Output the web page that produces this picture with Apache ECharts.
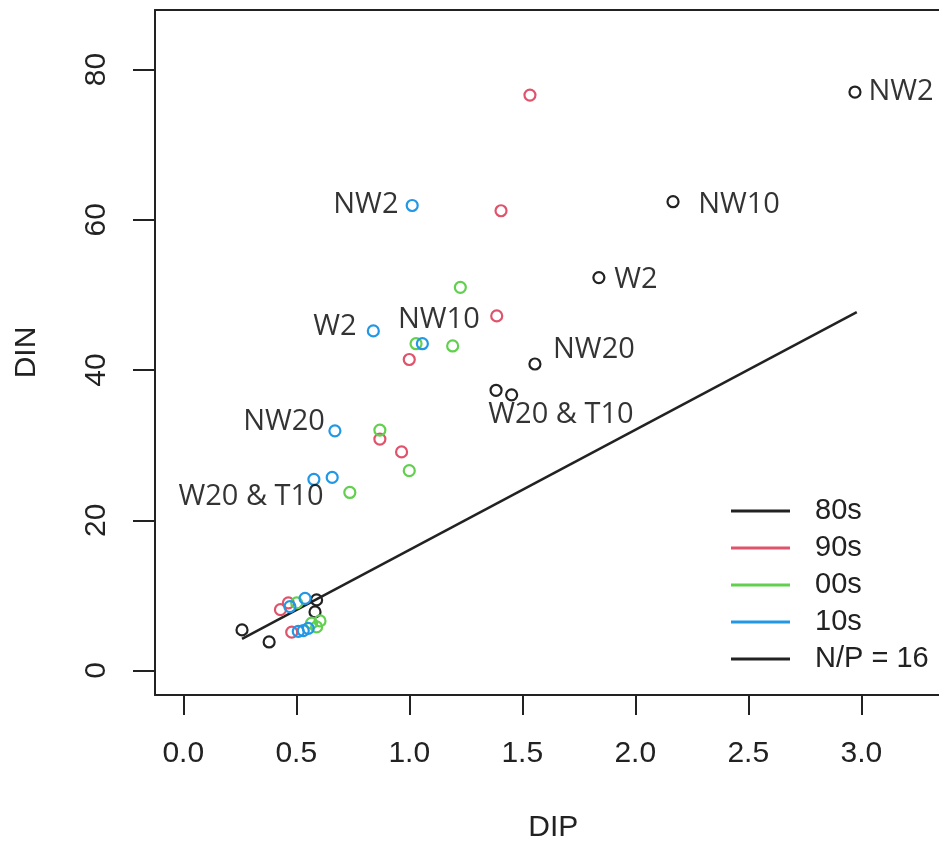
<!DOCTYPE html>
<html>
<head>
<meta charset="utf-8">
<script src="https://cdn.jsdelivr.net/npm/echarts@6/dist/echarts.min.js"></script>
<style>
  html, body { margin: 0; padding: 0; background: #fff; }
  #chart { width: 939px; height: 841px; }
</style>
</head>
<body>
<div id="chart"></div>
<script>
// points, [DIP, DIN]
var pts80s = [[2.972, 77.0], [2.167, 62.4], [1.839, 52.3], [1.556, 40.8], [1.384, 37.3], [1.453, 36.7],
  [0.26, 5.4], [0.38, 3.8], [0.583, 7.8], [0.59, 9.4]];
var pts90s = [[1.534, 76.6], [1.406, 61.2], [1.387, 47.2], [1.0, 41.4], [0.87, 30.8], [0.966, 29.1],
  [0.43, 8.1], [0.465, 9.0], [0.48, 5.1]];
var pts00s = [[1.226, 51.0], [1.03, 43.5], [1.192, 43.2], [0.87, 32.0], [1.0, 26.6], [0.737, 23.7],
  [0.502, 9.0], [0.568, 6.3], [0.605, 6.6], [0.59, 5.8]];
var pts10s = [[1.013, 61.9], [0.841, 45.2], [1.058, 43.5], [0.671, 31.9], [0.578, 25.45], [0.659, 25.7],
  [0.472, 8.5], [0.539, 9.6], [0.509, 5.2], [0.531, 5.3], [0.553, 5.6]];
var npLine = [[0.26, 4.2], [2.98, 47.7]];

// site labels [text, DIP, DIN] (text centre)
var siteLabels = [
  ['NW2', 3.176, 77.0], ['NW10', 2.459, 62.0], ['W2', 2.003, 52.0], ['NW20', 1.817, 42.7],
  ['W20 & T10', 1.671, 34.0], ['NW2', 0.808, 62.0], ['W2', 0.671, 45.7], ['NW10', 1.131, 46.7],
  ['NW20', 0.446, 33.1], ['W20 & T10', 0.3, 23.1]
];

var xTicks = [0, 0.5, 1, 1.5, 2, 2.5, 3];
var yTicks = [0, 20, 40, 60, 80];

var names = ['80s', '90s', '00s', '10s'];
var colors = ['#222222', '#DF536B', '#61D04F', '#2297E6'];
var groups = [pts80s, pts90s, pts00s, pts10s];

var tickFont = { fontFamily: 'Liberation Sans, Arial, sans-serif', fontSize: 30, color: '#222' };
var frameLine = { show: true, onZero: false, lineStyle: { color: '#222', width: 2 } };

var series = groups.map(function (d, i) {
  return {
    name: names[i],
    type: 'scatter',
    data: d,
    symbol: 'circle',
    symbolSize: 11,
    itemStyle: { color: 'rgba(0,0,0,0)', borderColor: colors[i], borderWidth: 2.2, opacity: 1 },
    z: 3
  };
});
series.push({
  name: 'N/P = 16',
  type: 'line',
  data: npLine,
  symbol: 'none',
  lineStyle: { color: '#222', width: 2.5 },
  z: 2
});
series.push({
  name: 'labels',
  type: 'scatter',
  data: siteLabels.map(function (l) { return { value: [l[1], l[2]], name: l[0] }; }),
  symbolSize: 1,
  itemStyle: { color: 'rgba(0,0,0,0)' },
  label: {
    show: true,
    position: 'inside',
    formatter: '{b}',
    fontFamily: 'Open Sans, sans-serif',
    fontSize: 29,
    color: '#000'
  },
  silent: true,
  z: 4
});

var chart = echarts.init(document.getElementById('chart'));
chart.setOption({
  animation: false,
  backgroundColor: '#fff',
  grid: {
    left: 155, top: 10, width: 796.7, height: 685,
    outerBoundsMode: 'none',
    containLabel: false
  },
  legend: {
    orient: 'vertical',
    left: 726, top: 491,
    itemWidth: 59, itemHeight: 3, itemGap: 7,
    textStyle: { fontFamily: 'Liberation Sans, Arial, sans-serif', fontSize: 29, lineHeight: 30,
      color: '#222', padding: [0, 0, 0, 20] },
    data: names.map(function (n, i) {
      return { name: n, icon: 'rect', itemStyle: { color: colors[i], borderWidth: 0 } };
    }).concat([{ name: 'N/P = 16', icon: 'rect', itemStyle: { color: '#222', borderWidth: 0 } }])
  },
  xAxis: [{
    type: 'value',
    min: -0.125, max: 3.4,
    name: 'DIP',
    nameLocation: 'middle',
    nameGap: 118,
    nameTextStyle: tickFont,
    splitLine: { show: false },
    axisLine: frameLine,
    axisTick: { show: true, length: 20, customValues: xTicks, lineStyle: { color: '#222', width: 2 } },
    axisLabel: {
      customValues: xTicks, margin: 44,
      formatter: function (v) { return v.toFixed(1); },
      fontFamily: tickFont.fontFamily, fontSize: tickFont.fontSize, color: tickFont.color
    }
  }, {
    type: 'value',
    position: 'top',
    min: -0.125, max: 3.4,
    splitLine: { show: false },
    axisLine: frameLine,
    axisTick: { show: false },
    axisLabel: { show: false }
  }],
  yAxis: {
    type: 'value',
    min: -3.26, max: 87.92,
    name: 'DIN',
    nameLocation: 'middle',
    nameGap: 113,
    nameTextStyle: tickFont,
    splitLine: { show: false },
    axisLine: frameLine,
    axisTick: { show: true, length: 22, customValues: yTicks, lineStyle: { color: '#222', width: 2 } },
    axisLabel: {
      customValues: yTicks, margin: 43, rotate: 90,
      fontFamily: tickFont.fontFamily, fontSize: tickFont.fontSize, color: tickFont.color
    }
  },
  series: series
});
</script>
</body>
</html>
